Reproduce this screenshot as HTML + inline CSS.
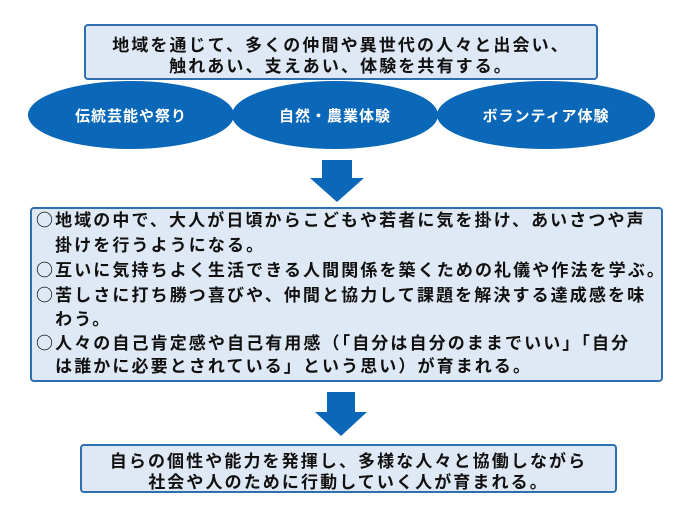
<!DOCTYPE html>
<html><head><meta charset="utf-8"><style>
body{margin:0;width:690px;height:518px;background:#fff;position:relative;overflow:hidden;font-family:"Noto Sans CJK JP","Liberation Sans",sans-serif;font-weight:bold;color:#111}
.box{position:absolute;background:#dfe9f5;border:2px solid #2e6fb0;border-radius:4px;box-sizing:border-box}
.t{position:absolute;white-space:nowrap;font-size:17px;letter-spacing:2.1px;line-height:20px}
.el{position:absolute;background:#0b68b8;border-radius:50%;color:#fff;font-size:15px;display:flex;align-items:center;justify-content:center;letter-spacing:1px}
</style></head><body>
<div class="box" style="left:84px;top:24px;width:514px;height:56px"></div>
<div class="t" style="left:0;width:682px;text-align:center;top:34px">地域を通じて、多くの仲間や異世代の人々と出会い、</div>
<div class="t" style="left:0;width:682px;text-align:center;top:55px">触れあい、支えあい、体験を共有する。</div>
<div class="el" style="left:28px;top:81px;width:206px;height:68px">伝統芸能や祭り</div>
<div class="el" style="left:232px;top:81px;width:206px;height:68px">自然・農業体験</div>
<div class="el" style="left:437px;top:81px;width:218px;height:68px">ボランティア体験</div>
<svg style="position:absolute;left:0;top:0" width="690" height="518">
<polygon points="322,160 352,160 352,178 364,178 337,202 310,178 322,178" fill="#0b68b8"/>
<polygon points="327,392 355,392 355,412 367,412 341,436 315,412 327,412" fill="#0b68b8"/>
</svg>
<div class="box" style="left:30px;top:207px;width:633px;height:175px"></div>
<div class="t" style="left:36px;top:209px">○地域の中で、大人が日頃からこどもや若者に気を掛け、あいさつや声</div>
<div class="t" style="left:36px;top:234px">&#12288;掛けを行うようになる。</div>
<div class="t" style="left:36px;top:259px">○互いに気持ちよく生活できる人間関係を築くための礼儀や作法を学ぶ。</div>
<div class="t" style="left:36px;top:284px">○苦しさに打ち勝つ喜びや、仲間と協力して課題を解決する達成感を味</div>
<div class="t" style="left:36px;top:308px">&#12288;わう。</div>
<div class="t" style="left:36px;top:332px">○人々の自己肯定感や自己有用感（「自分は自分のままでいい」「自分</div>
<div class="t" style="left:36px;top:355px">&#12288;は誰かに必要とされている」という思い）が育まれる。</div>
<div class="box" style="left:80px;top:444px;width:537px;height:49px"></div>
<div class="t" style="left:80px;width:537px;text-align:center;top:450px">自らの個性や能力を発揮し、多様な人々と協働しながら</div>
<div class="t" style="left:80px;width:537px;text-align:center;top:471px">社会や人のために行動していく人が育まれる。</div>
</body></html>
